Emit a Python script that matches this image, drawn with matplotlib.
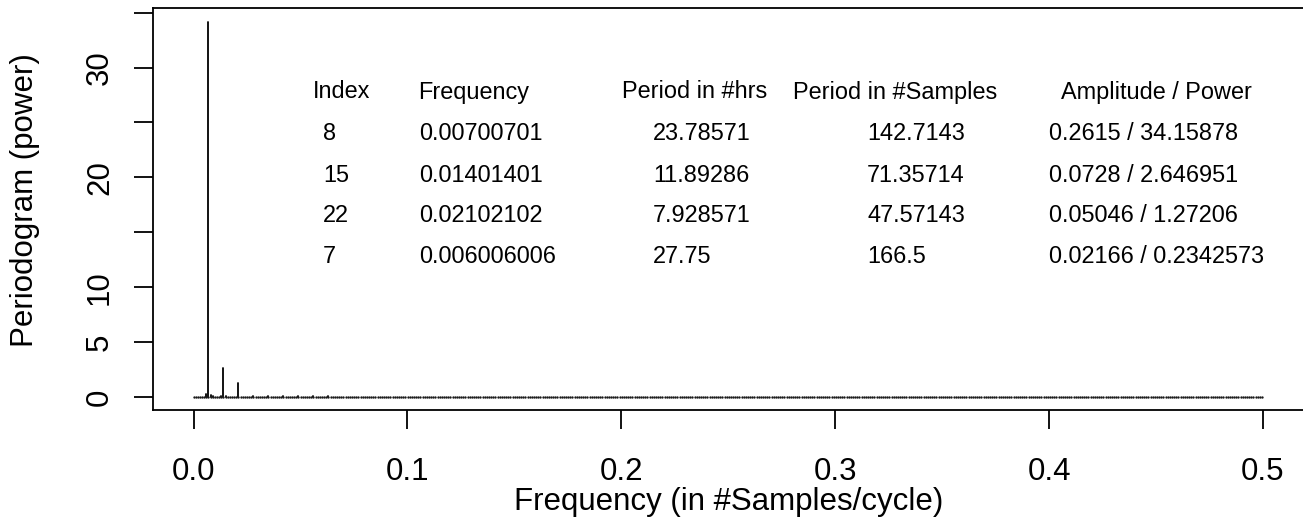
import numpy as np
import matplotlib
matplotlib.use("Agg")
import matplotlib.pyplot as plt

# periodogram of a 999-sample series, frequencies k/999 for k = 0..499
n_samples = 999
freq = np.arange(500) / n_samples

# visible spikes (index k -> power); everything else sits on the baseline
spike_k = [6, 7, 8, 9, 13, 14, 15, 20, 21, 22, 28, 35, 42, 49, 56, 63]
spike_power = [0.2342573, 34.15878, 0.22, 0.12, 0.05, 2.646951, 0.06, 0.04,
               1.27206, 0.04, 0.05, 0.12, 0.08, 0.05, 0.08, 0.06]

power = np.zeros(len(freq))
power[spike_k] = spike_power

# table of top peaks
headers = ["Index", "Frequency", "Period in #hrs", "Period in #Samples", "Amplitude / Power"]
tab_index = ["8", "15", "22", "7"]
tab_freq = ["0.00700701", "0.01401401", "0.02102102", "0.006006006"]
tab_hrs = ["23.78571", "11.89286", "7.928571", "27.75"]
tab_samples = ["142.7143", "71.35714", "47.57143", "166.5"]
tab_amp = ["0.2615 / 34.15878", "0.0728 / 2.646951", "0.05046 / 1.27206", "0.02166 / 0.2342573"]

xticks = [0.0, 0.1, 0.2, 0.3, 0.4, 0.5]
yticks = [0, 5, 10, 15, 20, 25, 30, 35]
ytick_labels = ["0", "5", "10", "", "20", "", "30", ""]

plt.rcParams['font.family'] = ['Liberation Sans', 'DejaVu Sans']

W, H = 1303, 526
fig = plt.figure(figsize=(W / 100, H / 100), dpi=100)

# plot region in pixels: left 153, top 8, bottom 410, runs past the right edge
ax = fig.add_axes([153 / W, (H - 410) / H, (W - 153) / W, (410 - 8) / H])
ax.set_xlim((153 - 193.5) / 2139, (W - 193.5) / 2139)
ax.set_ylim((397 - 410) / 10.983, (397 - 8) / 10.983)

ax.vlines(freq, 0, power, colors="black", linewidth=1.3, capstyle="round")
ax.plot(freq, np.zeros_like(power), ls="none", marker="o", ms=1.7, mew=0,
        color="#1a1a1a")

for s in ["left", "top", "bottom"]:
    ax.spines[s].set_linewidth(1.3)
ax.spines["right"].set_visible(False)

ax.set_xticks(xticks)
ax.set_xticklabels([f"{v:.1f}" for v in xticks])
ax.set_yticks(yticks)
ax.set_yticklabels(ytick_labels)
ax.tick_params(axis="both", direction="out", length=14, width=1.3,
               labelsize=22.5)
ax.tick_params(axis="x", pad=36.5)
ax.tick_params(axis="y", pad=18.4)
plt.setp(ax.get_xticklabels(), va="baseline")
plt.setp(ax.get_yticklabels(), rotation=90, rotation_mode="anchor",
         ha="center", va="baseline")

fig.text(729 / W, 1 - 510 / H, "Frequency (in #Samples/cycle)",
         fontsize=22.5, ha="center", va="baseline")
fig.text(33.5 / W, 1 - 200 / H, "Periodogram (power)", fontsize=22.5,
         rotation=90, rotation_mode="anchor", ha="center", va="baseline")

# table text
fs = 16.9
head_x = [313, 418, 622, 793, 1061]
val_x = [323, 419, 653, 867, 1049]
head_y = 98.5
row_y = [140.5, 182, 222.5, 262.5]
columns = [tab_index, tab_freq, tab_hrs, tab_samples, tab_amp]

for hx, h in zip(head_x, headers):
    fig.text(hx / W, 1 - head_y / H, h, fontsize=fs, ha="left", va="baseline")
for vx, col in zip(val_x, columns):
    for ry, v in zip(row_y, col):
        fig.text(vx / W, 1 - ry / H, v, fontsize=fs, ha="left", va="baseline")

fig.savefig("out.png", dpi=100)
